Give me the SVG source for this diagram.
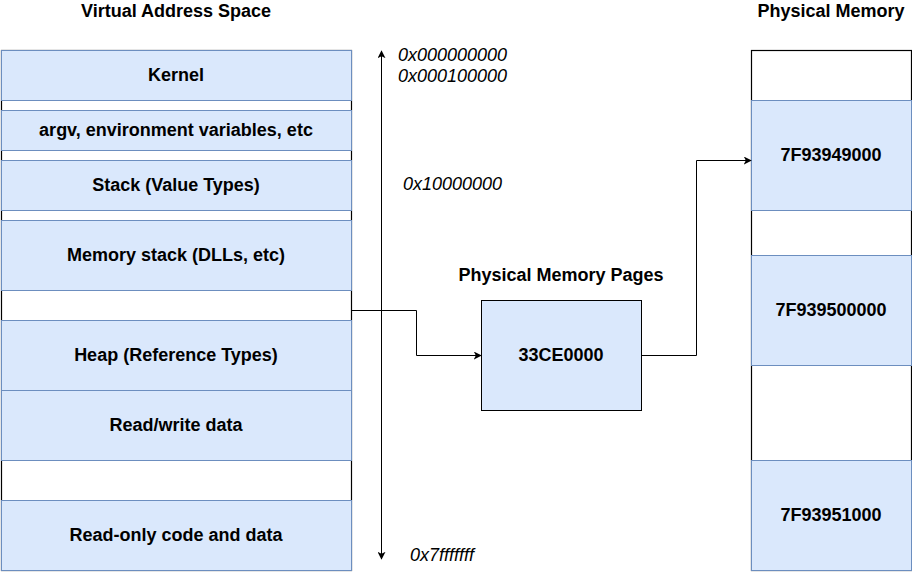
<svg xmlns="http://www.w3.org/2000/svg" width="912" height="572" viewBox="0 0 912 572">
<defs>
<style>
.t{font-family:"Liberation Sans",Arial,sans-serif;font-size:18px;font-weight:bold;fill:#000;text-anchor:middle}
.a{font-family:"Liberation Sans",Arial,sans-serif;font-size:18px;font-style:italic;fill:#000}
.b{fill:#dae8fc;stroke:#6c8ebf;stroke-width:1}
.o{fill:#fff;stroke:#000;stroke-width:1.2}
.c{fill:none;stroke:#000;stroke-width:1}
</style>
<marker id="ar" viewBox="0 0 10 10" refX="9" refY="5" markerWidth="8" markerHeight="8" markerUnits="userSpaceOnUse" orient="auto-start-reverse">
<path d="M0,0 L10,5 L0,10 L2.5,5 Z" fill="#000"/>
</marker>
</defs>
<rect width="912" height="572" fill="#fff"/>
<g id="titles">
<text class="t" x="176" y="17">Virtual Address Space</text>
<text class="t" x="831" y="17">Physical Memory</text>
<text class="t" x="561" y="281">Physical Memory Pages</text>
</g>
<g id="virtual-space">
<rect class="o" x="1.5" y="50.5" width="350" height="520"/>
<g id="kernel"><rect class="b" x="1.5" y="50.5" width="350" height="50"/><text class="t" x="176" y="81">Kernel</text></g>
<g id="argv"><rect class="b" x="1.5" y="110.5" width="350" height="40"/><text class="t" x="176" y="136">argv, environment variables, etc</text></g>
<g id="stack"><rect class="b" x="1.5" y="160.5" width="350" height="50"/><text class="t" x="176" y="191">Stack (Value Types)</text></g>
<g id="memstack"><rect class="b" x="1.5" y="220.5" width="350" height="70"/><text class="t" x="176" y="261">Memory stack (DLLs, etc)</text></g>
<g id="heap"><rect class="b" x="1.5" y="320.5" width="350" height="70"/><text class="t" x="176" y="361">Heap (Reference Types)</text></g>
<g id="rwdata"><rect class="b" x="1.5" y="390.5" width="350" height="70"/><text class="t" x="176" y="431">Read/write data</text></g>
<g id="rodata"><rect class="b" x="1.5" y="500.5" width="350" height="70"/><text class="t" x="176" y="541">Read-only code and data</text></g>
</g>
<g id="addresses">
<text class="a" x="398" y="61">0x000000000</text>
<text class="a" x="398" y="82">0x000100000</text>
<text class="a" x="403" y="190">0x10000000</text>
<text class="a" x="410" y="561">0x7fffffff</text>
</g>
<g id="page">
<rect x="481.5" y="300.5" width="160" height="110" fill="#dae8fc" stroke="#000"/>
<text class="t" x="561" y="361">33CE0000</text>
</g>
<g id="physical">
<rect class="o" x="751.5" y="50.5" width="160" height="520"/>
<g id="p1"><rect class="b" x="751.5" y="100.5" width="160" height="110"/><text class="t" x="831" y="161">7F93949000</text></g>
<g id="p2"><rect class="b" x="751.5" y="255.5" width="160" height="110"/><text class="t" x="831" y="316">7F939500000</text></g>
<g id="p3"><rect class="b" x="751.5" y="460.5" width="160" height="110"/><text class="t" x="831" y="521">7F93951000</text></g>
</g>
<g id="connectors">
<line class="c" x1="381.5" y1="51" x2="381.5" y2="559" marker-start="url(#ar)" marker-end="url(#ar)"/>
<polyline class="c" points="351.5,310.5 416.5,310.5 416.5,355.5 481,355.5" marker-end="url(#ar)"/>
<polyline class="c" points="641.5,355.5 696.5,355.5 696.5,160.5 751,160.5" marker-end="url(#ar)"/>
</g>
</svg>
